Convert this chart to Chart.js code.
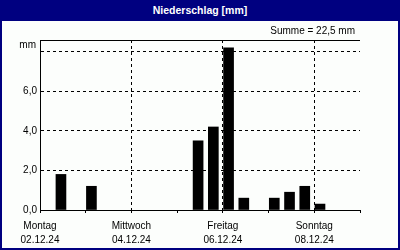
<!DOCTYPE html>
<html>
<head>
<meta charset="utf-8">
<script src="https://cdn.jsdelivr.net/npm/chart.js@4/dist/chart.umd.min.js"></script>
<style>
  html, body { margin: 0; padding: 0; background: #fcfefc; }
  #box { position: relative; width: 400px; height: 250px; overflow: hidden; background: #fcfefc;
         font-family: "Liberation Sans", Arial, sans-serif; color: #000; }
  #chart { position: absolute; left: 0; top: 0; }
  #head { position: absolute; left: 0; top: 0; width: 400px; height: 21px; background: #000080;
          color: #fff; font-weight: bold; font-size: 10.5px; line-height: 21px; text-align: center; }
  #frame { position: absolute; left: 0; top: 0; width: 400px; height: 250px; box-sizing: border-box;
           border: 2px solid #000080; pointer-events: none; }
  #sum { position: absolute; right: 45px; top: 25px; font-size: 10px; line-height: 12px; }
</style>
</head>
<body>
<div id="box">
  <canvas id="chart" width="400" height="250"></canvas>
  <div id="head">Niederschlag [mm]</div>
  <div id="sum">Summe = 22,5 mm</div>
  <div id="frame"></div>
</div>
<script>
(function () {
    "use strict";

    // data
    var dayNames = ["Montag", "Dienstag", "Mittwoch", "Donnerstag", "Freitag", "Samstag", "Sonntag"];
    var dayDates = ["02.12.24", "03.12.24", "04.12.24", "05.12.24", "06.12.24", "07.12.24", "08.12.24"];
    var barTimes = ["02.12 11:00", "03.12 03:00", "05.12 11:00", "05.12 19:00", "06.12 03:00",
                    "06.12 11:00", "07.12 03:00", "07.12 11:00", "07.12 19:00", "08.12 03:00"];
    var rainValues = [1.8, 1.2, 3.5, 4.2, 8.2, 0.6, 0.6, 0.9, 1.2, 0.3];
    var yTickValues = [0, 2, 4, 6, 8];
    var yTickLabels = ["0,0", "2,0", "4,0", "6,0", ""];
    var unitLabel = "mm";
    var yMax = 8.6;

    // hours since 02.12 00:00
    function toHours(s) {
        var day = parseInt(s.slice(0, 2), 10) - 2;
        var hour = parseInt(s.slice(6, 8), 10);
        return day * 24 + hour;
    }

    var points = barTimes.map(function (t, i) {
        return { x: toHours(t), y: rainValues[i] };
    });

    var topLineAndUnit = {
        id: 'topLineAndUnit',
        afterDraw: function (chart) {
            var ctx = chart.ctx, a = chart.chartArea;
            ctx.save();
            ctx.strokeStyle = '#000';
            ctx.lineWidth = 1;
            ctx.beginPath();
            ctx.moveTo(a.left, Math.round(a.top) + 0.5);
            ctx.lineTo(a.right, Math.round(a.top) + 0.5);
            ctx.stroke();
            ctx.fillStyle = '#000';
            ctx.font = '10px "Liberation Sans", Arial, sans-serif';
            ctx.textAlign = 'right';
            ctx.textBaseline = 'middle';
            ctx.fillText(unitLabel, a.left - 4, a.top + 5);
            ctx.restore();
        }
    };

    var font = { family: '"Liberation Sans", Arial, sans-serif', size: 10 };

    new Chart(document.getElementById('chart'), {
        type: 'bar',
        data: {
            datasets: [{
                data: points,
                backgroundColor: '#000',
                borderWidth: 0,
                barThickness: 10
            }]
        },
        options: {
            responsive: false,
            animation: false,
            layout: { padding: { top: 40, right: 40, left: 0, bottom: 0 } },
            plugins: { legend: { display: false }, tooltip: { enabled: false } },
            scales: {
                x: {
                    type: 'linear',
                    offset: false,
                    min: 0,
                    max: 168,
                    afterBuildTicks: function (s) {
                        s.ticks = [0, 1, 2, 3, 4, 5, 6, 7].map(function (d) { return { value: d * 24 }; });
                    },
                    afterFit: function (s) { s.height = 40; },
                    ticks: {
                        autoSkip: false,
                        maxRotation: 0,
                        padding: 6,
                        color: '#000',
                        font: { family: font.family, size: 10, lineHeight: 1.4 },
                        callback: function (v) {
                            var d = Math.round(v / 24);
                            if (d % 2 === 0 && d < 7) return [dayNames[d], dayDates[d]];
                            return '';
                        }
                    },
                    grid: {
                        offset: false,
                        color: function (c) {
                            var v = c.tick ? c.tick.value : 0;
                            return (v % 48 === 0 && v > 0 && v < 168) ? '#000' : 'rgba(0,0,0,0)';
                        },
                        tickColor: '#000',
                        tickLength: 3,
                        lineWidth: 1
                    },
                    border: { display: true, color: '#000', width: 1, dash: [3, 3] }
                },
                y: {
                    min: 0,
                    max: yMax,
                    afterBuildTicks: function (s) {
                        s.ticks = yTickValues.map(function (v) { return { value: v }; });
                    },
                    afterFit: function (s) { s.width = 40; },
                    ticks: {
                        padding: 3,
                        color: '#000',
                        font: font,
                        callback: function (v, i) { return yTickLabels[i]; }
                    },
                    grid: {
                        drawTicks: false,
                        color: function (c) {
                            var v = c.tick ? c.tick.value : 0;
                            return v > 0 ? '#000' : 'rgba(0,0,0,0)';
                        },
                        lineWidth: 1
                    },
                    border: { display: true, color: '#000', width: 1, dash: [3, 3] }
                }
            }
        },
        plugins: [topLineAndUnit]
    });
})();
</script>
</body>
</html>
